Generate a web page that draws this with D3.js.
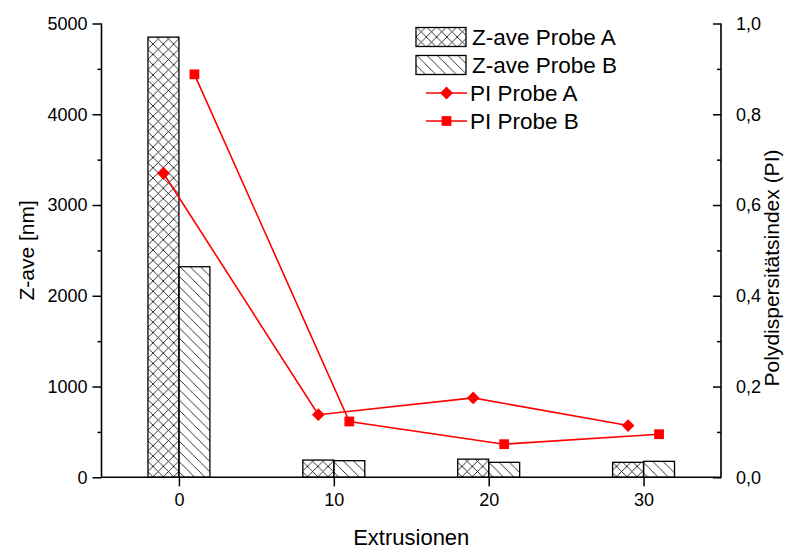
<!DOCTYPE html>
<html>
<head>
<meta charset="utf-8">
<script src="https://cdn.jsdelivr.net/npm/d3@7"></script>
<style>
  body{margin:0;background:#fff;}
  text{font-family:Arial,"Liberation Sans",sans-serif;fill:#000;}
</style>
</head>
<body>
<div id="plot"></div>
<script>
// data
var extrusions = [0, 10, 20, 30];
var zaveA = [4850, 190, 200, 165];
var zaveB = [2320, 183, 165, 176];
var piA = [0.670, 0.138, 0.175, 0.114];
var piB = [0.888, 0.123, 0.073, 0.095];
var piOffset = 1;                       // PI points sit 1 unit left (A) / right (B) of the tick
var zTicks = [0, 1000, 2000, 3000, 4000, 5000];
var piTicks = [0, 0.2, 0.4, 0.6, 0.8, 1.0];
var xTicks = [0, 10, 20, 30];

var W = 788, H = 549;
var margin = {t: 23.5, r: 67, b: 71.7, l: 101.5};
var width = W - margin.l - margin.r,
    height = H - margin.t - margin.b;

var svg = d3.select('#plot').append('svg')
    .attr('width', W)
    .attr('height', H);

var defs = svg.append('defs');
// crosshatch for probe A
defs.append('pattern')
    .attr('id', 'hatchA')
    .attr('patternUnits', 'userSpaceOnUse')
    .attr('width', 10.3).attr('height', 10.3)
    .append('path')
    .attr('d', 'M-1,-1L11.3,11.3M11.3,-1L-1,11.3')
    .attr('stroke', '#000').attr('stroke-width', 0.8).attr('fill', 'none');
// back-slash lines for probe B
defs.append('pattern')
    .attr('id', 'hatchB')
    .attr('patternUnits', 'userSpaceOnUse')
    .attr('width', 10.3).attr('height', 10.3)
    .append('path')
    .attr('d', 'M-1,-1L11.3,11.3M-6.15,4.15L6.15,16.45M4.15,-6.15L16.45,6.15')
    .attr('stroke', '#000').attr('stroke-width', 0.8).attr('fill', 'none');

var g = svg.append('g')
    .attr('transform', 'translate(' + margin.l + ',' + margin.t + ')');

var x = d3.scaleLinear().domain([-5, 35]).range([0, width]);
var y = d3.scaleLinear().domain([0, 5000]).range([height, 0]);
var y2 = d3.scaleLinear().domain([0, 1]).range([height, 0]);

var barHalf = 2; // bar width in x units

// bars
var bars = extrusions.map(function(e, i){ return {x: e, a: zaveA[i], b: zaveB[i]}; });
g.selectAll('.barA').data(bars).enter().append('rect')
    .attr('class', 'barA')
    .attr('x', function(d){ return x(d.x - barHalf); })
    .attr('y', function(d){ return y(d.a); })
    .attr('width', function(d){ return x(d.x) - x(d.x - barHalf); })
    .attr('height', function(d){ return height - y(d.a); })
    .attr('fill', 'url(#hatchA)')
    .attr('stroke', '#000').attr('stroke-width', 1.3);
g.selectAll('.barB').data(bars).enter().append('rect')
    .attr('class', 'barB')
    .attr('x', function(d){ return x(d.x); })
    .attr('y', function(d){ return y(d.b); })
    .attr('width', function(d){ return x(d.x + barHalf) - x(d.x); })
    .attr('height', function(d){ return height - y(d.b); })
    .attr('fill', 'url(#hatchB)')
    .attr('stroke', '#000').attr('stroke-width', 1.3);

// axes
var fmtComma = function(d){ return d3.format('.1f')(d).replace('.', ','); };

var xAxis = d3.axisBottom(x).tickValues(xTicks).tickSize(9).tickPadding(7);
var yAxis = d3.axisLeft(y).tickValues(zTicks).tickSize(9).tickPadding(5).tickFormat(d3.format('d'));
var yMinor = d3.axisLeft(y).tickValues(d3.range(500, 5000, 1000)).tickSize(4).tickFormat('');
var y2Axis = d3.axisRight(y2).tickValues(piTicks).tickSize(-8).tickPadding(15).tickFormat(fmtComma);
var y2Minor = d3.axisRight(y2).tickValues(d3.range(0.1, 1, 0.2)).tickSize(-4).tickFormat('');

function styleAxis(sel, fs){
    sel.select('.domain').remove();
    sel.selectAll('line').attr('stroke', '#000').attr('stroke-width', 1.5);
    sel.selectAll('text').style('font-size', fs + 'px');
}

g.append('g').attr('class', 'xAxis')
    .attr('transform', 'translate(0,' + height + ')')
    .call(xAxis).call(styleAxis, 18);
g.append('g').attr('class', 'yAxis').call(yAxis).call(styleAxis, 18);
g.append('g').attr('class', 'yMinor').call(yMinor).call(styleAxis, 18);
g.append('g').attr('class', 'y2Axis')
    .attr('transform', 'translate(' + width + ',0)')
    .call(y2Axis).call(styleAxis, 18);
g.append('g').attr('class', 'y2Minor')
    .attr('transform', 'translate(' + width + ',0)')
    .call(y2Minor).call(styleAxis, 18);

// frame lines (left, bottom, right)
g.append('path')
    .attr('d', 'M0,' + y(5000) + 'V' + height + 'H' + width + 'V' + y2(1))
    .attr('fill', 'none').attr('stroke', '#000').attr('stroke-width', 1.6);

// PI lines
var line = d3.line()
    .x(function(d){ return x(d.x); })
    .y(function(d){ return y2(d.v); });

var ptsA = extrusions.map(function(e, i){ return {x: e - piOffset, v: piA[i]}; });
var ptsB = extrusions.map(function(e, i){ return {x: e + piOffset, v: piB[i]}; });

g.append('path').datum(ptsA).attr('d', line)
    .attr('fill', 'none').attr('stroke', '#ff0000').attr('stroke-width', 1.6);
g.append('path').datum(ptsB).attr('d', line)
    .attr('fill', 'none').attr('stroke', '#ff0000').attr('stroke-width', 1.6);

var diamond = d3.symbol().type(d3.symbolSquare).size(82);
g.selectAll('.mA').data(ptsA).enter().append('path')
    .attr('class', 'mA')
    .attr('d', diamond)
    .attr('transform', function(d){ return 'translate(' + x(d.x) + ',' + y2(d.v) + ') rotate(45)'; })
    .attr('fill', '#ff0000');
var square = d3.symbol().type(d3.symbolSquare).size(95);
g.selectAll('.mB').data(ptsB).enter().append('path')
    .attr('class', 'mB')
    .attr('d', square)
    .attr('transform', function(d){ return 'translate(' + x(d.x) + ',' + y2(d.v) + ')'; })
    .attr('fill', '#ff0000');

// axis titles
svg.append('text')
    .attr('transform', 'translate(27,' + (margin.t + height / 2) + ') rotate(-90)')
    .attr('text-anchor', 'middle')
    .attr('dy', '0.35em')
    .style('font-size', '21px')
    .text('Z-ave [nm]');
svg.append('text')
    .attr('transform', 'translate(772,' + 268 + ') rotate(-90)')
    .attr('text-anchor', 'middle')
    .attr('dy', '0.35em')
    .style('font-size', '21px')
    .text('Polydispersitätsindex (PI)');
svg.append('text')
    .attr('x', margin.l + width / 2)
    .attr('y', 545)
    .attr('text-anchor', 'middle')
    .style('font-size', '22px')
    .text('Extrusionen');

// legend
var legend = svg.append('g').attr('transform', 'translate(416,37)');
var legendItems = ['Z-ave Probe A', 'Z-ave Probe B', 'PI Probe A', 'PI Probe B'];
legendItems.forEach(function(name, i){
    var row = legend.append('g').attr('transform', 'translate(0,' + (i * 28) + ')');
    if (i < 2) {
        row.append('rect')
            .attr('x', 0).attr('y', -9.5).attr('width', 50).attr('height', 19)
            .attr('fill', i == 0 ? 'url(#hatchA)' : 'url(#hatchB)')
            .attr('stroke', '#000').attr('stroke-width', 1.3);
    } else {
        row.append('line')
            .attr('x1', 10).attr('x2', 51).attr('y1', 0).attr('y2', 0)
            .attr('stroke', '#ff0000').attr('stroke-width', 1.6);
        row.append('path')
            .attr('d', i == 2 ? diamond : square)
            .attr('transform', 'translate(30.5,0)' + (i == 2 ? ' rotate(45)' : ''))
            .attr('fill', '#ff0000');
    }
    row.append('text')
        .attr('x', i < 2 ? 56 : 54)
        .attr('dy', '0.35em')
        .style('font-size', '22.5px')
        .text(name);
});
</script>
</body>
</html>
